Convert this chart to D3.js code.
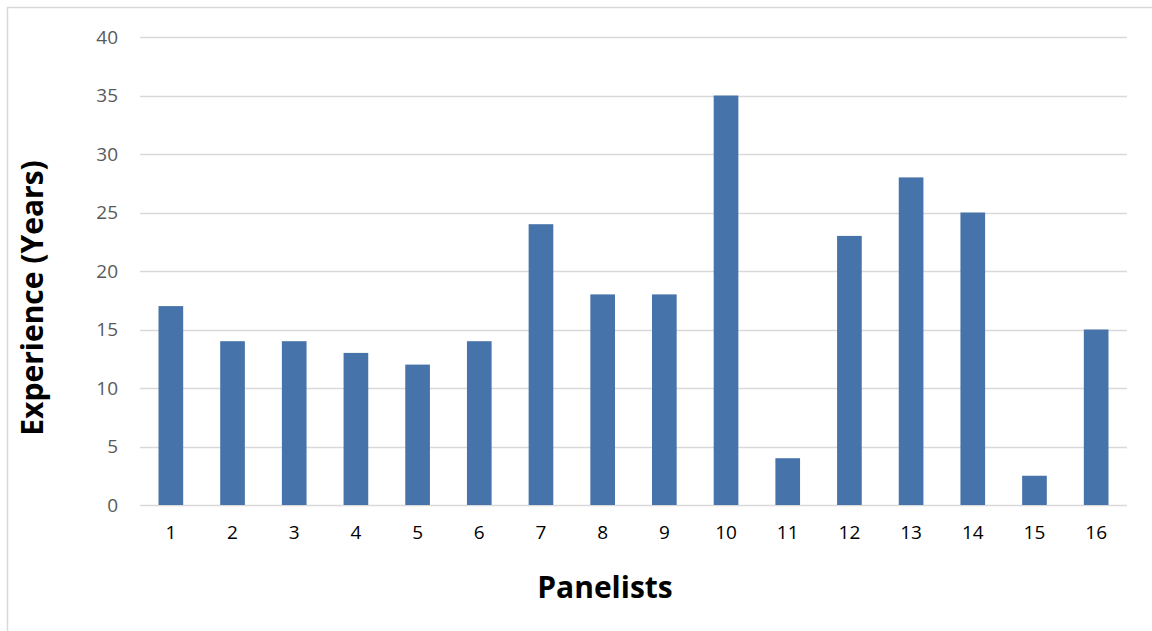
<!DOCTYPE html>
<html>
<head>
<meta charset="utf-8">
<script src="https://cdn.jsdelivr.net/npm/d3@7"></script>
<style>
  html, body { margin: 0; padding: 0; background: #fff; }
  svg { display: block; }
</style>
</head>
<body>
<svg id="chart" width="1152" height="631"></svg>
<script>
// Panelist experience data
const panelists = ["1","2","3","4","5","6","7","8","9","10","11","12","13","14","15","16"];
const experienceYears = [17, 14, 14, 13, 12, 14, 24, 18, 18, 35, 4, 23, 28, 25, 2.5, 15];
const yTicks = [0, 5, 10, 15, 20, 25, 30, 35, 40];

const svg = d3.select("#chart");
const W = 1152, H = 631;
const plot = { left: 140, right: 1127, top: 37, bottom: 505 };
const font = "'Open Sans', Lato, 'Noto Sans', sans-serif";

// Outer chart frame
svg.append("rect")
  .attr("x", 7.5).attr("y", 7.5)
  .attr("width", W + 10).attr("height", H + 10)
  .attr("fill", "#fff").attr("stroke", "#d9d9d9").attr("stroke-width", 1.5);

const x = d3.scaleBand().domain(panelists).range([plot.left, plot.right]).paddingInner(0).paddingOuter(0);
const y = d3.scaleLinear().domain([0, 40]).range([plot.bottom, plot.top]);

// Horizontal gridlines
svg.append("g")
  .selectAll("line")
  .data(yTicks)
  .join("line")
  .attr("x1", plot.left).attr("x2", plot.right)
  .attr("y1", d => Math.round(y(d)) + 0.5).attr("y2", d => Math.round(y(d)) + 0.5)
  .attr("stroke", "#d9d9d9").attr("stroke-width", 1.5);

// Bars (gap width 150%)
const barW = x.bandwidth() / 2.5;
svg.append("g")
  .selectAll("rect")
  .data(panelists.map((p, i) => ({ p, v: experienceYears[i] })))
  .join("rect")
  .attr("x", d => x(d.p) + (x.bandwidth() - barW) / 2)
  .attr("y", d => y(d.v))
  .attr("width", barW)
  .attr("height", d => y(0) - y(d.v))
  .attr("fill", "#4674aa");

// Y axis labels
const yAxis = d3.axisLeft(y).tickValues(yTicks).tickSize(0).tickPadding(22);
const gy = svg.append("g").attr("transform", `translate(${plot.left},0)`).call(yAxis);
gy.select(".domain").remove();
gy.selectAll("text")
  .attr("font-family", font).attr("font-size", 19).attr("fill", "#595959");

// X axis labels
const xAxis = d3.axisBottom(x).tickSize(0).tickPadding(21);
const gx = svg.append("g").attr("transform", `translate(0,${plot.bottom})`).call(xAxis);
gx.select(".domain").remove();
gx.selectAll("text")
  .attr("font-family", font).attr("font-size", 19).attr("fill", "#000");

// Axis titles
svg.append("text")
  .attr("x", 605).attr("y", 598)
  .attr("text-anchor", "middle")
  .attr("font-family", font).attr("font-weight", "bold").attr("font-size", 30)
  .attr("fill", "#000")
  .text("Panelists");

svg.append("text")
  .attr("transform", `translate(43,298) rotate(-90)`)
  .attr("text-anchor", "middle")
  .attr("font-family", font).attr("font-weight", "bold").attr("font-size", 30)
  .attr("fill", "#000")
  .text("Experience (Years)");
</script>
</body>
</html>
